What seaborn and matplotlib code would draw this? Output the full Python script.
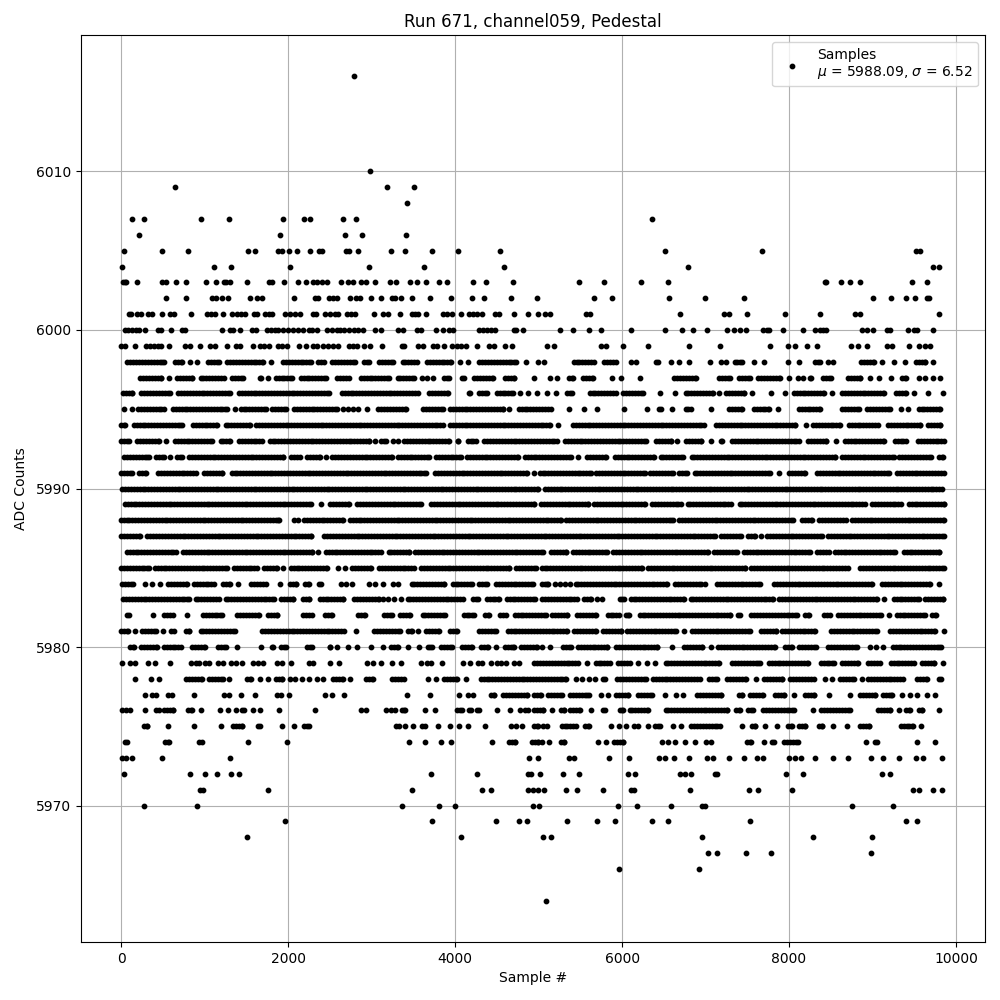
import numpy as np
import pandas as pd
import matplotlib
matplotlib.use("Agg")
import matplotlib.pyplot as plt
import seaborn as sns

# Sample numbers, one list per ADC level.
# An int is a single visible dot; a tuple is a solid stretch of ink (outer edges).
l6016 = [2792]
l6010 = [2984]
l6009 = [644, 3188, 3512]
l6008 = [3428]
l6007 = [128, 272, 956, 1292, 1940, 2192, 2264, 2660, 2816, 6359]
l6006 = [212, 1904, 2684, 2888, 3416]
l6005 = [32, 488, 800, 1520, 1604, 1880, 1928, 2012, 2108, 2264, 2372, 2400, 2692, 2724, 2840, 3236, 3404, 3728, 4040, 4532, 6515, 7676, 9523, 9571]
l6004 = [8, 1112, 1316, 2024, 2972, 3632, 4580, 6790, 9731, 9795]
l6003 = [20, 40, 60, 188, 484, 536, 656, 776, 1012, 1136, 1232, 1260, 1300, 1508, 1772, 1812, 1952, 2120, 2216, 2300, 2340, 2408, 2460, 2636, 2716, 2772, 2868, 2932, 3044, 3224, 3296, 3464, 3548, 3656, 3812, 3908, 4220, 4364, 4688, 5485, 5785, 6227, 6551, 8430, 8446, 8621, 8729, 8849, 9471, 9651]
l6002 = [536, 776, 1092, 1140, 1212, 1280, 1544, 1628, 1688, 2072, 2324, 2360, 2492, 2540, 2580, 2744, 2812, 2860, 2996, 3116, 3240, 3280, 3356, 3488, 3704, 3956, 4208, 4340, 4664, 4976, 5665, 5880, 6563, 6994, 7460, 9004, 9220, 9400, 9507, 9651, 9683]
l6001 = [92, 120, 188, 240, 320, 372, 488, 580, 636, 836, 1032, 1080, 1124, 1220, 1332, 1388, 1440, 1480, 1596, 1628, 1724, 1772, 1812, 1960, 2020, 2080, 2140, 2292, 2332, 2444, 2500, 2560, 2600, 2708, 2748, 2804, 3028, 3140, 3200, 3344, 3480, 3520, 3560, 3656, 3860, 3908, 3960, 4076, 4164, 4220, 4260, 4328, 4480, 4524, 4700, 4868, 4996, 5082, 5134, 5569, 5617, 6694, 7221, 7281, 7496, 7951, 8370, 8789, 8849, 9795]
l6000 = [40, 80, 132, 172, 212, 284, 440, 480, 596, 724, 760, 1208, 1300, 1340, 1424, 1572, 1612, 1748, 1800, 1848, 1880, 1940, 2000, 2060, 2120, 2180, 2252, 2280, 2340, 2468, 2520, 2580, 2620, 2668, 2732, 2792, 2840, 2900, 3040, 3116, 3320, 3372, 3548, 3588, 3772, 3860, 3932, 3980, 4292, 4332, 4380, 4428, 4472, 4700, 4732, 4808, 5258, 5410, 5605, 5749, 6108, 6515, 6718, 6850, 7017, 7257, 7341, 7413, 7488, 7688, 7736, 7760, 7927, 8167, 8310, 8366, 8406, 8438, 8873, 8933, 9004, 9172, 9204, 9423, 9503, 9531, 9723]
l5999 = [0, 40, 164, 292, 340, 392, 440, 480, 572, 764, 820, 944, 1068, 1120, 1268, 1380, 1424, 1576, 1660, 1708, 1772, 1880, 1920, 1988, 2132, 2208, 2292, 2340, 2420, 2480, 2540, 2600, 2724, 2772, 2820, 2912, 2984, 3120, 3360, 3388, 3560, 3620, 3740, 3780, 3872, 3960, 4020, 4068, 4132, 4268, 4400, 4460, 4600, 4680, 5102, 5186, 5749, 5813, 6012, 6311, 6802, 7173, 7772, 7987, 8071, 8214, 8334, 8741, 8825, 8933, 9172, 9236, 9435, 9555, 9631, 9691]
l5998 = [(44, 540), (620, 760), 824, 912, (1012, 1200), (1240, 1732), 1796, (1908, 2300), (2332, 2460), (2500, 2828), (2884, 3000), (3060, 3280), (3340, 3572), (3632, 3980), (4048, 4080), 4160, (4260, 4760), 4852, 4988, 5070, (5390, 5693), (5757, 5952), 6112, 6172, (6371, 6459), 6587, 6686, 6802, 7053, 7189, 7249, (7317, 7468), 7580, 7696, 7987, 8119, (8286, 8406), 8466, 8526, (8833, 9045), 9112, 9256, 9388, (9491, 9663), 9723]
l5997 = [(196, 512), 572, (640, 880), (920, 1260), (1300, 1492), (1628, 1700), 1760, (1820, 2080), (2120, 2480), (2560, 2760), (2840, 3240), (3280, 3540), 3600, 3660, 3740, (3840, 3960), (4048, 4132), (4200, 4480), (4572, 4740), 4950, 5134, 5222, (5334, 5445), (5505, 5685), 5884, 5992, 6211, (6594, 6918), (7137, 7321), (7369, 7568), (7600, 7919), 8003, 8107, 8167, (8226, 8298), (8374, 8534), (8678, 8885), 8965, 9077, 9220, (9324, 9435), 9563, 9631, 9723, 9811]
l5996 = [(-12, 160), (212, 620), (652, 1332), (1380, 2520), (2612, 3580), (3660, 3940), (4140, 4212), (4260, 4412), (4468, 4720), 4772, 4868, 4985, 5102, 5214, (5314, 5433), (5581, 5952), (5984, 6275), 6459, 6638, (6730, 7121), 7161, (7217, 7496), 7560, 7784, 7951, (8027, 8446), 8514, (8606, 9164), (9252, 9435), 9503, 9663, 9839]
l5995 = [36, 132, (172, 540), (588, 1300), 1364, (1400, 1760), (1780, 2000), (2040, 2620), 2660, 2720, 2780, 2840, 2940, (3052, 3440), (3588, 3880), (3908, 4600), 4640, (4732, 5174), 5365, 5545, 5705, 6024, 6299, (6411, 6491), 6602, (6730, 6850), 7065, (7249, 7468), (7548, 7788), 7867, (8087, 8398), (8606, 8865), (8905, 9244), 9344, 9423, (9523, 9843)]
l5994 = [(-28, 80), (120, 760), (828, 1180), (1220, 1572), (1588, 3880), (3908, 5166), 5234, (5381, 7009), (7097, 8107), 8198, (8258, 8646), (8686, 9092), (9156, 9603), (9635, 9843)]
l5993 = [(-28, 120), (160, 480), 532, (612, 1120), (1160, 1332), (1380, 1720), (1748, 3000), 3040, (3080, 3200), 3260, 3320, (3360, 3960), (4000, 4068), (4120, 4280), (4320, 5254), (5286, 6311), (6379, 6618), 6662, (6738, 6978), (7033, 7089), (7161, 7229), (7289, 8147), (8198, 8478), 8566, (8638, 9172), (9236, 9435), (9515, 9882)]
l5992 = [(4, 360), (392, 540), 584, (644, 756), (784, 1968), (2008, 2172), (2200, 2408), 2452, (2500, 3268), (3284, 3720), (3740, 4100), (4112, 4780), (4804, 5422), 5477, (5553, 5832), (5884, 6411), (6431, 6762), (6802, 8586), (8606, 9284), (9292, 9731), (9763, 9875)]
l5991 = [(-28, 160), (188, 324), (412, 920), (964, 1236), (1292, 3680), (3732, 4892), (4920, 4960), (4982, 5653), (5661, 6299), (6307, 6638), (6658, 6810), (6838, 7808), 7875, (7975, 8226), (8306, 9228), (9264, 9882)]
l5990 = [(-20, 5022), (5046, 9866)]
l5989 = [(12, 2308), 2396, (2476, 2760), (2800, 3620), (3684, 4980), (5002, 5625), (5637, 6299), (6331, 6738), (6754, 7337), (7377, 8941), (8965, 9372), (9404, 9890)]
l5988 = [(-36, 1924), 2068, 2120, (2160, 2692), (2708, 5294), (5302, 6642), (6658, 8079), (8127, 8310), (8334, 8709), (8725, 9890)]
l5987 = [(-32, 252), (284, 2308), (2404, 7149), (7161, 7456), (7480, 7628), 7668, (7708, 8426), (8438, 9882)]
l5986 = [(36, 688), (712, 2320), 2360, (2420, 3140), (3172, 3480), (3492, 5086), (5122, 5362), (5381, 5852), (5864, 7061), (7073, 7409), (7429, 8286), (8306, 8506), (8518, 9304), (9344, 9826)]
l5985 = [(-32, 360), (372, 1300), (1320, 1660), (1684, 1900), 1940, (2000, 2492), 2592, 2680, (2740, 3020), (3060, 3532), (3564, 4680), (4700, 4995), (5006, 6271), (6283, 7508), (7520, 8733), (8825, 9882)]
l5984 = [(-20, 172), 280, 372, 468, (532, 820), (840, 1140), (1192, 1332), 1404, (1528, 1760), 1904, (1996, 2128), (2172, 2276), (2340, 2428), 2628, 2692, 2760, 2964, 3040, 3132, 3252, 3316, (3448, 3900), (3940, 4228), (4252, 4412), (4460, 4965), (5006, 5142), 5202, 5262, 5314, 5373, (5413, 6563), (6610, 6970), 6997, (7109, 7680), (7792, 9024), (9084, 9723), 9795]
l5983 = [(-8, 840), (860, 1200), (1220, 1860), (1888, 2092), (2148, 2284), (2348, 2692), (2764, 3120), 3140, 3200, 3268, 3348, (3400, 4120), (4188, 4300), (4348, 4560), (4588, 4990), (5014, 5493), (5513, 5653), 5705, 5765, (5940, 6052), (6072, 6770), (6790, 7840), (7856, 9084), 9136, (9224, 9583), (9603, 9875)]
l5982 = [(36, 124), 380, (488, 648), 788, (948, 1240), (1360, 1680), (1732, 1900), (2152, 2312), (2408, 2560), (2812, 2948), (3120, 3272), (3308, 3492), (3580, 3912), (4072, 4260), (4324, 4440), (4508, 4636), (4684, 5114), (5134, 5373), (5433, 5713), (5797, 5992), (6012, 6112), (6180, 7329), (7357, 7441), (7520, 8127), (8159, 8266), (8390, 8518), (8558, 9132), 9196, (9260, 9663), (9683, 9795)]
l5981 = [(-32, 108), 164, (220, 448), 500, (572, 660), (748, 844), (920, 1388), (1660, 2700), 2816, (3004, 3372), (3404, 3512), 3560, (3620, 3832), (3908, 4052), (4260, 4524), (4600, 5365), (5397, 5713), (5745, 6020), (6032, 6678), 6742, (6810, 7560), (7640, 7879), (7887, 8338), (8474, 9084), (9184, 9783), 9854]
l5980 = [(72, 180), (208, 460), (480, 748), (820, 1036), (1132, 1284), 1388, 1676, (1772, 1848), (1880, 2004), (2200, 2320), (2468, 2532), 2580, 2716, 2828, 2996, 3140, (3200, 3348), 3436, 3572, (3640, 3752), (3800, 3988), (4052, 4228), (4276, 4420), 4488, (4564, 4732), (4760, 5006), 5046, 5134, (5266, 5413), (5441, 5852), (5900, 6451), 6598, (6714, 6990), 7061, (7121, 7867), (7927, 8067), (8095, 8358), (8438, 8566), (8546, 8845), 8969, 9037, 9124, (9212, 9850)]
l5979 = [8, 100, 160, 320, 400, 588, 840, 892, 932, 1000, 1048, 1160, 1220, 1320, 1372, 1448, 1580, 1640, 1700, 1872, 1920, 2036, 2252, 2300, 2504, 2612, 2948, 3012, 3116, 3244, 3352, 3592, 3660, 3708, 3840, 4092, 4180, 4276, 4324, 4428, 4500, 4548, 4604, 4700, 4760, (4920, 5501), 5581, (5653, 5884), (5924, 6124), 6196, 6299, 6391, (6491, 7189), (7289, 7680), (7728, 8254), (8350, 8566), (8606, 8853), (8917, 9116), (9188, 9523), (9563, 9771), 9842]
l5978 = [164, 356, 452, (748, 992), (1024, 1252), 1292, (1480, 1588), 1664, 1756, (1820, 1960), 2020, 2084, 2168, 2252, 2348, 2420, (2512, 2692), 2744, (2900, 3052), (3212, 3412), 3680, 3776, (3840, 4052), 4136, (4276, 5353), 5449, 5525, 5605, 5681, (5741, 5828), (5912, 6319), (6339, 6958), (7017, 7169), (7229, 7520), 7608, (7672, 7947), (7987, 8326), 8430, 8514, (8586, 8813), 8873, (8917, 9396), (9503, 9683), (9771, 9854)]
l5977 = [284, 372, 420, 560, 608, 872, 1232, 1292, 1436, 1604, 1868, 1912, 2012, 2440, 2520, 2672, 3428, 3704, 4048, 4156, 4212, (4400, 4500), (4548, 4892), (4920, 5054), (5082, 5314), (5345, 5633), 5749, 5832, (5900, 6104), (6163, 6391), 6519, 6650, 6730, (6870, 7217), (7369, 7468), (7508, 7720), (7800, 7975), 8059, (8159, 8326), 8478, 8729, (8821, 9060), (9092, 9264), 9352, 9447, 9531, 9651, 9747]
l5976 = [12, 60, 108, 284, (388, 480), (480, 652), (772, 880), 960, 1184, 1280, 1376, (1420, 1504), 1580, 1664, 1892, 2324, 2876, 2936, 3172, 3228, 3280, (3328, 3428), 3644, 3764, (3988, 4108), (4140, 4220), (4228, 4312), 4496, 4660, 4772, (4812, 4900), (4920, 5086), 5166, (5234, 5334), (5349, 5525), 5633, (5745, 5820), (5940, 6044), (6060, 6339), (6491, 7289), (7337, 7437), (7480, 7600), (7660, 8087), 8290, (8358, 8757), (9036, 9244), 9316, (9372, 9483), (9523, 9623), 9791]
l5975 = [(244, 344), 556, 868, 1196, (1312, 1480), (1612, 1696), 1928, 2072, (2160, 2280), (3264, 3352), 3404, 3492, (3576, 3664), 3800, 3944, 4052, 4160, 4352, 4664, 4728, 4796, (4920, 5020), 5054, 5102, (5246, 5481), (5525, 5629), 5868, 5960, 6052, 6140, 6191, 6311, (6367, 6487), 6606, 6702, (6798, 7201), 7437, (7528, 7628), 7712, 7856, (7959, 8063), (8087, 8218), (8330, 8430), 8526, 8697, (8821, 8989), (9308, 9511), 9583]
l5974 = [40, 72, (492, 608), (900, 992), 1520, 1988, 3452, 3644, 3836, 3956, 4436, (4612, 4748), (4888, 5020), 5042, 5126, (5234, 5334), 5709, 5808, (5876, 6044), 6479, 6551, 6634, 6754, 6874, 7010, 7069, (7472, 7576), 7700, (7768, 7856), (7911, 8139), 8921, (8997, 9088), 9531, 9747]
l5973 = [8, 60, 128, 488, 1304, 4888, 4988, 5365, 5425, 5844, 6084, 6443, 6519, 6618, 6802, 7017, 7085, 7281, 7460, 7620, 7688, 7999, 8067, 8147, 8310, 8530, 8705, 8981, 9124, 9316, 9523, 9603, 9831]
l5972 = [32, 824, 1008, 1148, 1316, 1412, 3716, 4268, 4868, 4908, 5012, 5294, 5485, 6072, 6156, 6690, 6750, 6826, 7109, 7141, 7963, 8167, 9112, 9208]
l5971 = [948, 980, 1760, 3488, 4328, 4424, 4872, 4932, 4992, 5062, 5326, 5461, 5773, 6112, 6148, 6814, 7520, 7628, 8035, 9491, 9555, 9723, 9831]
l5970 = [272, 908, 3368, 3812, 4000, 4932, 5000, 5952, 6180, 6587, 6962, 6990, 8753, 9244]
l5969 = [1964, 3728, 4484, 4764, 4860, 5342, 5701, 5916, 6359, 6551, 7532, 9399, 9531]
l5968 = [1508, 4076, 5054, 5150, 6958, 8286, 8993]
l5967 = [7029, 7137, 7484, 7784, 8981]
l5966 = [5964, 6922]
l5964 = [5090]

levels = {6016: l6016, 6010: l6010, 6009: l6009, 6008: l6008, 6007: l6007, 6006: l6006,
          6005: l6005, 6004: l6004, 6003: l6003, 6002: l6002, 6001: l6001, 6000: l6000,
          5999: l5999, 5998: l5998, 5997: l5997, 5996: l5996, 5995: l5995, 5994: l5994,
          5993: l5993, 5992: l5992, 5991: l5991, 5990: l5990, 5989: l5989, 5988: l5988,
          5987: l5987, 5986: l5986, 5985: l5985, 5984: l5984, 5983: l5983, 5982: l5982,
          5981: l5981, 5980: l5980, 5979: l5979, 5978: l5978, 5977: l5977, 5976: l5976,
          5975: l5975, 5974: l5974, 5973: l5973, 5972: l5972, 5971: l5971, 5970: l5970,
          5969: l5969, 5968: l5968, 5967: l5967, 5966: l5966, 5964: l5964}

RADIUS = 30
STEP = 35


def samples(entry):
    if not isinstance(entry, tuple):
        return [entry]
    lo, hi = entry[0] + RADIUS, entry[1] - RADIUS
    if hi <= lo:
        return [(entry[0] + entry[1]) / 2]
    return list(np.arange(lo, hi, STEP)) + [hi]


xs, ys = [], []
for level, entries in levels.items():
    for entry in entries:
        pts = samples(entry)
        xs.extend(pts)
        ys.extend([level] * len(pts))

df = pd.DataFrame({"sample": xs, "adc": ys})

fig, ax = plt.subplots(figsize=(10, 10), dpi=100)
sns.scatterplot(data=df, x="sample", y="adc", marker=".", s=40, color="black",
                edgecolor="black", linewidth=1.0, zorder=2, ax=ax,
                label="Samples\n$\\mu$ = 5988.09, $\\sigma$ = 6.52")
ax.set_xlim(-488, 10348)
ax.set_ylim(5961.4, 6018.6)
ax.grid(True)
ax.set_title("Run 671, channel059, Pedestal")
ax.set_xlabel("Sample #")
ax.set_ylabel("ADC Counts", labelpad=5.5)
ax.legend(loc="upper right")
fig.subplots_adjust(left=0.0805, right=0.985, top=0.965, bottom=0.058)
fig.savefig("out.png", dpi=100)
